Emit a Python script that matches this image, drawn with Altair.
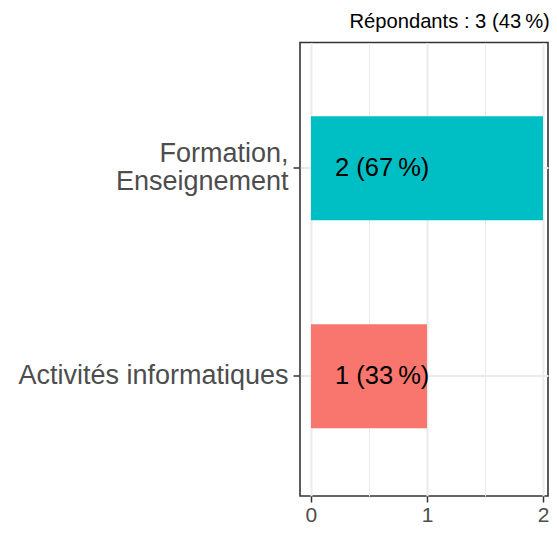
import altair as alt
import pandas as pd

categories = ["Formation,\nEnseignement", "Activités informatiques"]
counts = [2, 1]
colors = ["#00BFC4", "#F8766D"]
total_respondents = 3
respondent_pct = 43
x_ticks = [0, 0.5, 1, 1.5, 2]

total = sum(counts)
labels = [f"{n} ({round(100 * n / total)}\u202f%)" for n in counts]
df = pd.DataFrame({"cat": categories, "n": counts, "lab": labels})

FONT = "Liberation Sans"

y_enc = alt.Y(
    "cat:N",
    sort=categories,
    title=None,
    scale=alt.Scale(paddingInner=0.5, paddingOuter=0.341, align=0.521),
    axis=alt.Axis(
        labelExpr="split(datum.label, '\\n')",
        labelFont=FONT,
        labelFontSize=27,
        labelColor="#4D4D4D",
        labelLineHeight=28,
        labelOffset={"condition": {"test": "indexof(datum.label, '\\n') >= 0", "value": -14}, "value": 0},
        labelPadding=5,
        tickColor="#333333",
        tickWidth=1.5,
        tickSize=7,
        domain=False,
        grid=True,
        gridColor="#EBEBEB",
        gridWidth=2,
        bandPosition=0.5,
        minExtent=292,
        maxExtent=292,
        labelLimit=400,
    ),
)

bars = alt.Chart(df).mark_bar(size=104).encode(
    x=alt.X(
        "n:Q",
        title=None,
        scale=alt.Scale(domain=[-0.0944, 2.043], nice=False, zero=False),
        axis=alt.Axis(
            values=x_ticks,
            labelExpr="datum.value % 1 ? '' : format(datum.value, 'd')",
            labelFont=FONT,
            labelFontSize=21,
            labelColor="#4D4D4D",
            labelPadding=2,
            tickColor="#333333",
            tickWidth=1.5,
            tickSize=6,
            tickOpacity={"condition": {"test": "datum.value % 1 != 0", "value": 0}, "value": 1},
            domain=False,
            grid=True,
            gridColor="#EBEBEB",
            gridWidth={"condition": {"test": "datum.value % 1 != 0", "value": 1}, "value": 2},
        ),
    ),
    y=y_enc,
    color=alt.Color("cat:N", scale=alt.Scale(domain=categories, range=colors), legend=None),
)

text = alt.Chart(df).mark_text(
    align="left", baseline="middle", font=FONT, fontSize=25.5, color="black", dx=24
).encode(
    x=alt.datum(0),
    y=alt.Y("cat:N", sort=categories),
    text="lab:N",
)

chart = (
    alt.layer(bars, text)
    .properties(
        width=541,
        height=517,
        autosize=alt.AutoSizeParams(type="fit", contains="padding"),
        padding={"left": 0, "top": 3.5, "right": 0, "bottom": 0},
        title=alt.TitleParams(
            f"Répondants : {total_respondents} ({respondent_pct}\u202f%)",
            anchor="end",
            font=FONT,
            fontSize=20.2,
            fontWeight="normal",
            color="black",
            offset=10,
            dx=1,
        ),
    )
    .configure(background="white")
    .configure_view(stroke="#333333", strokeWidth=1.6)
)

chart.save("out.html", embed_options={"renderer": "svg", "actions": False})
